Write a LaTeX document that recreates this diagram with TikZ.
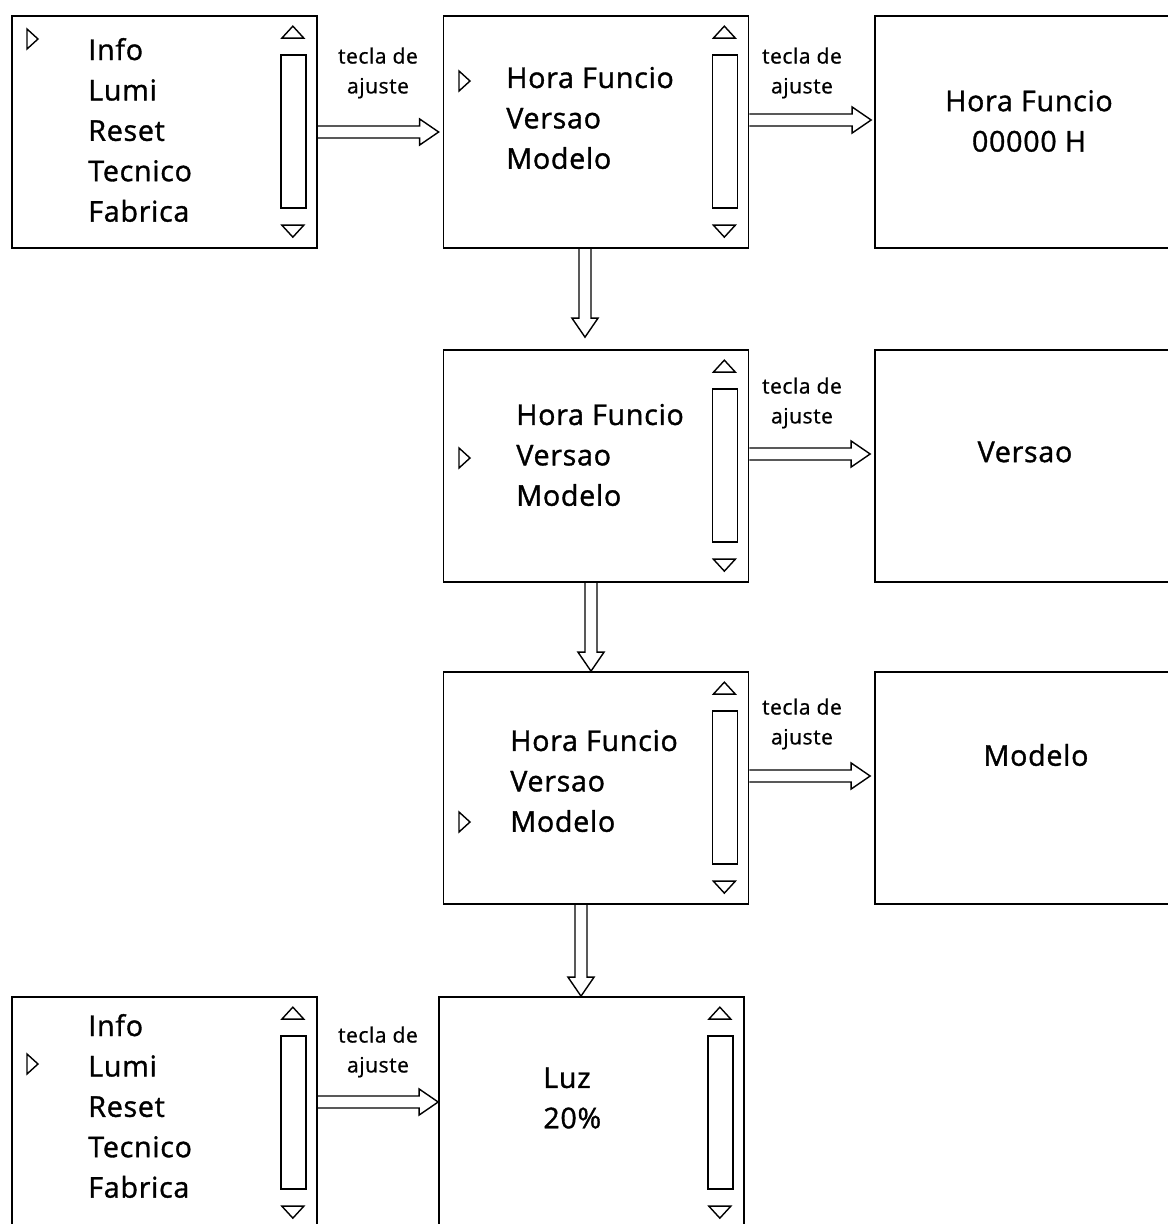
\documentclass[tikz,border=0pt]{standalone}
\usepackage{fontspec}
\setmainfont{Open Sans}
\newfontfamily\screenfont{Open Sans}[RawFeature={embolden=1.2}, LetterSpace=2.5]
\newfontfamily\keyfont{Open Sans}[RawFeature={embolden=0.8}, LetterSpace=2.5]
\usetikzlibrary{calc}
\usetikzlibrary{positioning}
\tikzstyle{screen}=[draw, line width=1pt, minimum width=6.1cm, minimum height=4.64cm, inner sep=0]
\tikzstyle{wide screen}=[screen, minimum width=6.4cm]
\tikzstyle{item}=[font=\screenfont\fontsize{16.3}{23}\selectfont, align=left, inner sep=0, anchor=west]
\tikzstyle{readout}=[font=\screenfont\fontsize{16.3}{23}\selectfont, align=center, inner sep=0]
\tikzstyle{keylabel}=[font=\keyfont\fontsize{12}{17}\selectfont, align=center, inner sep=0]
\tikzstyle{harrow}=[draw, line width=0.8pt, to path={let \p1=(\tikztostart), \p2=(\tikztotarget) in (\x1,\y1+3.4pt) -- (\x2-10.8pt,\y1+3.4pt) -- (\x2-10.8pt,\y1+7.4pt) -- (\x2,\y1) -- (\x2-10.8pt,\y1-7.4pt) -- (\x2-10.8pt,\y1-3.4pt) -- (\x1,\y1-3.4pt)}]
\tikzstyle{varrow}=[draw, line width=0.8pt, to path={let \p1=(\tikztostart), \p2=(\tikztotarget) in (\x1-3.4pt,\y1) -- (\x1-3.4pt,\y2+10.8pt) -- (\x1-7.4pt,\y2+10.8pt) -- (\x1,\y2) -- (\x1+7.4pt,\y2+10.8pt) -- (\x1+3.4pt,\y2+10.8pt) -- (\x1+3.4pt,\y1)}]
\tikzset{
  scrollbar/.pic={
    \draw[line width=0.8pt] (-36,23) -- (-25,11) -- (-14,23) -- cycle ;
    \draw[line width=0.8pt] (-37,40) rectangle (-12,193) ;
    \draw[line width=0.8pt] (-36,210) -- (-14,210) -- (-25,222) -- cycle ;
  },
  pointer/.pic={
    \draw[line width=0.8pt] (0,-10) -- (11,0) -- (0,10) -- cycle ;
  }
}

\begin{document}
\begin{tikzpicture}[x=0.02cm, y=-0.02cm]
    \useasboundingbox (0,0) rectangle (1168,1224) ;
    \clip (0,0) rectangle (1168,1224) ;
    % main menu
    \node[screen] (menu) at (164.5,132) {} ;
    \pic at (menu.north east) {scrollbar} ;
    \pic at (27,39) {pointer} ;
    \node[item] (menutxt) at (88,130) {Info\\Lumi\\Reset\\Tecnico\\Fabrica} ;
    % info menu, three positions
    \node[screen] (infohora) at (596,132) {} ;
    \pic at (infohora.north east) {scrollbar} ;
    \pic at (459,81) {pointer} ;
    \node[item] (infohoratxt) at (506,118) {Hora Funcio\\Versao\\Modelo} ;
    \node[screen] (infoversao) at (596,466) {} ;
    \pic at (infoversao.north east) {scrollbar} ;
    \pic at (459,458) {pointer} ;
    \node[item] (infoversaotxt) at (516,455) {Hora Funcio\\Versao\\Modelo} ;
    \node[screen] (infomodelo) at (596,788) {} ;
    \pic at (infomodelo.north east) {scrollbar} ;
    \pic at (459,822) {pointer} ;
    \node[item] (infomodelotxt) at (510,781) {Hora Funcio\\Versao\\Modelo} ;
    % readouts
    \node[wide screen] (hora) at (1035,132) {} ;
    \node[readout] (horatxt) at (1029,121) {Hora Funcio\\00000 H} ;
    \node[wide screen] (versao) at (1035,466) {} ;
    \node[readout] (versaotxt) at (1025,452) {Versao} ;
    \node[wide screen] (modelo) at (1035,788) {} ;
    \node[readout] (modelotxt) at (1036,755) {Modelo} ;
    % lumi
    \node[screen] (menulumi) at (164.5,1113) {} ;
    \pic at (menulumi.north east) {scrollbar} ;
    \pic at (27,1064) {pointer} ;
    \node[item] (menulumitxt) at (88,1106) {Info\\Lumi\\Reset\\Tecnico\\Fabrica} ;
    \node[screen] (luz) at (591.5,1113) {} ;
    \pic at (luz.north east) {scrollbar} ;
    \node[item] (luztxt) at (543,1098) {Luz\\20\%} ;
    % connectors
    \draw[harrow] (menu.east) to ([shift={(-4,0)}]infohora.west) ;
    \node[keylabel] (key1) at (378,73) {tecla de\\ajuste} ;
    \draw[harrow] ([shift={(0,-12)}]infohora.east) to ([shift={(-3,0)}]hora.west) ;
    \node[keylabel] (key2) at (802,73) {tecla de\\ajuste} ;
    \draw[harrow] ([shift={(0,-12)}]infoversao.east) to ([shift={(-4,0)}]versao.west) ;
    \node[keylabel] (key3) at (802,403) {tecla de\\ajuste} ;
    \draw[harrow] ([shift={(0,-12)}]infomodelo.east) to ([shift={(-4,0)}]modelo.west) ;
    \node[keylabel] (key4) at (802,724) {tecla de\\ajuste} ;
    \draw[harrow] ([shift={(0,-11)}]menulumi.east) to (luz.west) ;
    \node[keylabel] (key5) at (378,1052) {tecla de\\ajuste} ;
    \draw[varrow] ([shift={(-11,0)}]infohora.south) to ([shift={(0,-12)}]infoversao.north) ;
    \draw[varrow] ([shift={(-5,0)}]infoversao.south) to (infomodelo.north) ;
    \draw[varrow] ([shift={(-15,0)}]infomodelo.south) to (luz.north) ;
\end{tikzpicture}
\end{document}
